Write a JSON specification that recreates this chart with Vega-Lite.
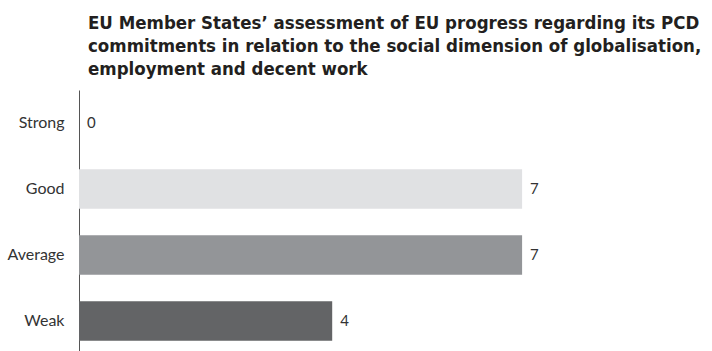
{
  "$schema": "https://vega.github.io/schema/vega-lite/v6.json",
  "autosize": "none",
  "padding": {"left": 79, "top": 90, "right": 0, "bottom": 0},
  "width": 633,
  "height": 264,
  "background": "white",
  "title": {
    "text": ["EU Member States’ assessment of EU progress regarding its PCD", "commitments in relation to the social dimension of globalisation,", "employment and decent work"],
    "anchor": "start",
    "frame": "group",
    "dx": 9,
    "offset": 12,
    "font": "'DejaVu Sans Condensed', Roboto",
    "fontSize": 18.5,
    "fontWeight": "bold",
    "lineHeight": 23,
    "color": "#231f20"
  },
  "data": {
    "values": [
      {"rating": "Strong", "count": 0},
      {"rating": "Good", "count": 7},
      {"rating": "Average", "count": 7},
      {"rating": "Weak", "count": 4}
    ]
  },
  "encoding": {
    "y": {
      "field": "rating",
      "type": "nominal",
      "sort": ["Strong", "Good", "Average", "Weak"],
      "scale": {"paddingInner": 0.4, "paddingOuter": 0.2},
      "axis": {
        "title": null,
        "ticks": false,
        "grid": false,
        "domain": true,
        "domainColor": "#555555",
        "domainWidth": 1,
        "labelPadding": 15,
        "labelFont": "Lato",
        "labelFontSize": 16,
        "labelColor": "#333333"
      }
    },
    "x": {
      "field": "count",
      "type": "quantitative",
      "scale": {"domain": [0, 10]},
      "axis": null
    }
  },
  "layer": [
    {
      "mark": {"type": "bar"},
      "encoding": {
        "color": {
          "field": "rating",
          "type": "nominal",
          "scale": {"domain": ["Strong", "Good", "Average", "Weak"], "range": ["#ffffff", "#e0e1e3", "#939598", "#636466"]},
          "legend": null
        }
      }
    },
    {
      "mark": {"type": "text", "align": "left", "baseline": "middle", "dx": 8, "font": "Lato", "fontSize": 15, "color": "#333333"},
      "encoding": {"text": {"field": "count", "type": "quantitative"}}
    }
  ],
  "config": {"view": {"stroke": null}}
}
